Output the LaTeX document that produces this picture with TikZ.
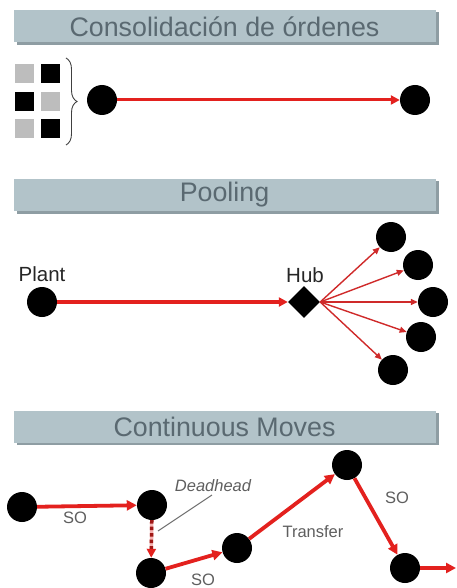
\documentclass[tikz,border=0pt]{standalone}
\usepackage{fontspec}
\setmainfont{Liberation Sans}
\usetikzlibrary{arrows.meta,shapes.geometric,decorations.pathreplacing}
\definecolor{hdrfill}{HTML}{B2C3C9}
\definecolor{hdrshadow}{HTML}{8E9DA3}
\definecolor{hdrtext}{HTML}{5A6971}
\definecolor{flow}{HTML}{E3211E}
\definecolor{flowthin}{HTML}{CF2A2A}
\definecolor{lbl}{HTML}{5E5E5E}
\definecolor{lightsq}{HTML}{BDBDBD}
\tikzset{
  header/.style={fill=hdrfill, draw=none, minimum width=422pt, minimum height=32pt,
    text=hdrtext, font=\fontsize{26.8}{30}\selectfont, inner sep=0pt},
  dot/.style={circle, fill=black, minimum size=30pt, inner sep=0pt},
  hubbox/.style={diamond, fill=black, minimum size=32pt, inner sep=0pt},
  flowarrow/.style={draw=flow, line width=3pt, -{Triangle[length=9pt,width=9pt]}},
  movearrow/.style={draw=flow, line width=3.8pt, -{Triangle[length=10pt,width=10pt]}},
  fanarrow/.style={draw=flowthin, line width=1.4pt, -{Triangle[length=7pt,width=6pt]}},
  label/.style={text=lbl, font=\fontsize{16.5}{19}\selectfont, inner sep=0pt},
  tag/.style={text=black!85, font=\fontsize{20.5}{24}\selectfont, inner sep=0pt},
  order/.style={minimum size=19pt, inner sep=0pt, draw=none}
}
\begin{document}
\begin{tikzpicture}[x=1pt,y=-1pt]
\useasboundingbox (0,0) rectangle (456,588);

% section headers with drop shadow
\foreach \yy/\txt/\nm in {26.5/{Consolidación de órdenes}/h1, 195/{Pooling}/h2, 426.5/{Continuous Moves}/h3}{
  \fill[hdrshadow] (16.5,\yy-14) rectangle (438.5,\yy+18.5);
  \node[header] (\nm) at (224.5,\yy) {\txt};
}

% --- order consolidation ---
\node[order, fill=lightsq] (o11) at (24.5,74) {};
\node[order, fill=black]   (o12) at (50.5,74) {};
\node[order, fill=black]   (o21) at (24.5,102) {};
\node[order, fill=lightsq] (o22) at (50.5,102) {};
\node[order, fill=lightsq] (o31) at (24.5,129) {};
\node[order, fill=black]   (o32) at (50.5,129) {};
\draw[black!75, line width=0.9pt, decorate, decoration={brace, amplitude=11pt}]
  (66,58) -- (66,145);
\node[dot] (c1) at (102,100) {};
\node[dot] (c2) at (415,100) {};
\draw[flowarrow] (c1) -- (c2);

% --- pooling ---
\node[dot] (plant) at (42,302) {};
\node[tag, anchor=south] at (42,282) {Plant};
\node[hubbox] (hub) at (304,302) {};
\node[tag, anchor=south] at (305,283) {Hub};
\node[dot] (p1) at (391,237) {};
\node[dot] (p2) at (418,265) {};
\node[dot] (p3) at (433,302) {};
\node[dot] (p4) at (421,337) {};
\node[dot] (p5) at (393,370) {};
\draw[flowarrow, line width=3.3pt] (plant) -- (hub.west);
\foreach \p in {p1,p2,p3,p4,p5}
  \draw[fanarrow] (hub.east) -- (\p);

% --- continuous moves ---
\node[dot] (m1) at (22,507) {};
\node[dot] (m2) at (152,505) {};
\node[dot] (m3) at (151,573) {};
\node[dot] (m4) at (237,548) {};
\node[dot] (m5) at (347,465) {};
\node[dot] (m6) at (405,568) {};
\coordinate (mout) at (456,568);
\draw[movearrow] (m1) -- (m2);
\draw[draw=flow!35, line width=3.5pt, shorten >=8pt] (m2) -- (m3);
\draw[draw=flow!70!black, line width=3.5pt, dash pattern=on 3.5pt off 3pt,
      -{Triangle[length=9pt,width=9pt,color=flow,fill=flow]}] (m2) -- (m3);
\draw[movearrow] (m3) -- (m4);
\draw[movearrow] (m4) -- (m5);
\draw[movearrow] (m5) -- (m6);
\draw[movearrow] (m6) -- (mout);

\node[label] (so1) at (75,518) {SO};
\node[label, font=\fontsize{16.5}{19}\selectfont\itshape] (dh) at (213,486) {Deadhead};
\coordinate (dhend) at (158,531);
\draw[black!55, line width=1pt] (212,495) -- (dhend);
\node[label] (so2) at (203,580) {SO};
\node[label] (tr) at (313,532) {Transfer};
\node[label] (so3) at (397,498) {SO};
\end{tikzpicture}
\end{document}
